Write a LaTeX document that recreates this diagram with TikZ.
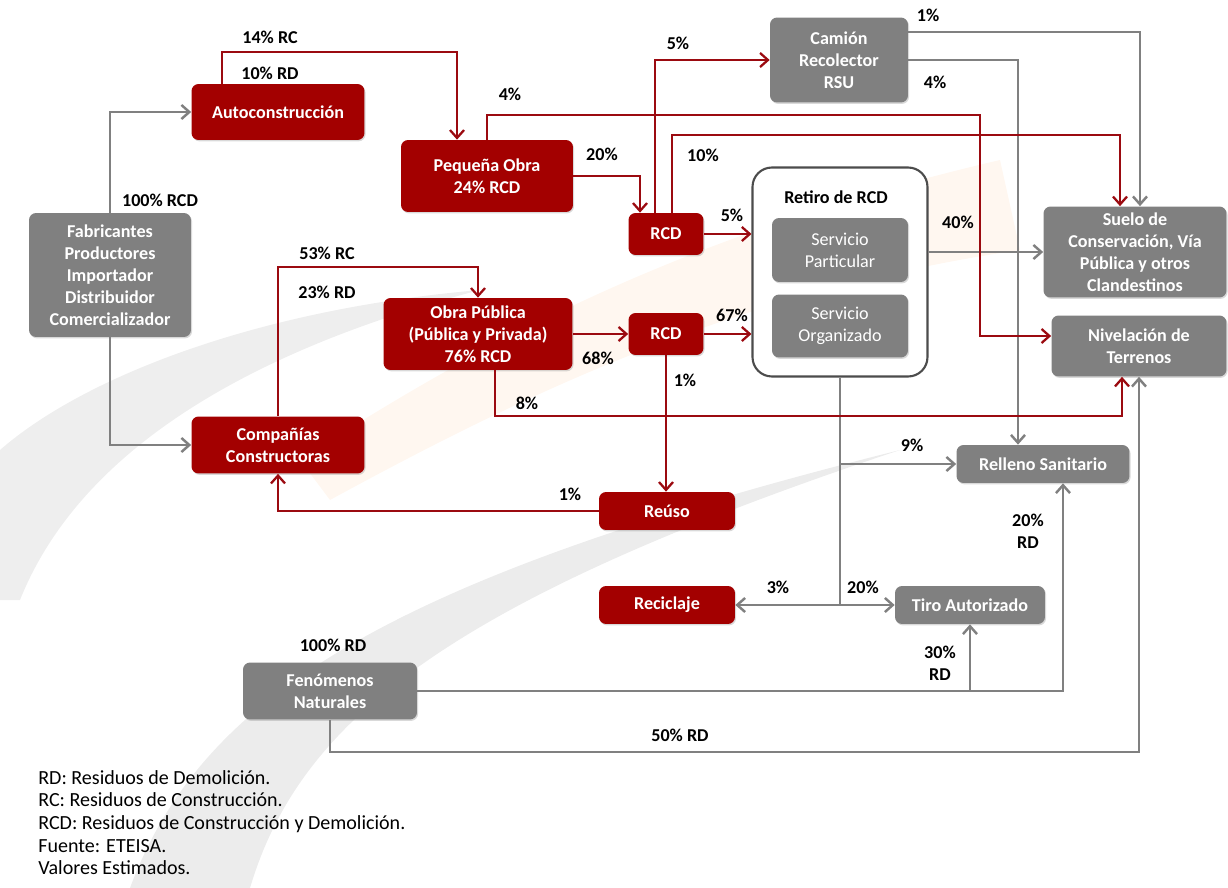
\documentclass[tikz,border=0pt]{standalone}
\usepackage{fontspec}
\setmainfont{Carlito}
\usetikzlibrary{arrows.meta,shadows}
\definecolor{boxred}{RGB}{163,0,0}
\definecolor{boxgray}{RGB}{128,128,128}
\definecolor{linered}{RGB}{155,10,16}
\definecolor{linegray}{RGB}{128,128,128}

\begin{document}
\begin{tikzpicture}[x=0.02cm, y=-0.02cm,
    >={Straight Barb[length=4.5pt,width=8pt]},
    box/.style={rounded corners=4pt, text=white, align=center, inner sep=0pt,
        font=\fontsize{10.3}{12.6}\selectfont\bfseries,
        drop shadow={shadow xshift=0.6pt, shadow yshift=-0.8pt, opacity=0.3}},
    rbox/.style={box, fill=boxred},
    gbox/.style={box, fill=boxgray},
    pct/.style={font=\fontsize{10.3}{12.6}\selectfont\bfseries, align=center},
    rline/.style={draw=linered, line width=1.3pt},
    gline/.style={draw=linegray, line width=1.4pt}]

    \useasboundingbox (0,0) rectangle (1228,888);

    \fill[gray!13] (0,450) .. controls (80,380) and (250,310) .. (480,290)
        .. controls (250,350) and (80,450) .. (20,600) -- (0,600) -- cycle;
    \fill[gray!15] (130,888) .. controls (200,700) and (380,580) .. (900,450)
        .. controls (450,600) and (300,720) .. (250,888) -- cycle;
    \fill[orange!6] (300,460) .. controls (500,330) and (700,230) .. (1000,160)
        -- (1020,250) .. controls (750,290) and (550,380) .. (330,500) -- cycle;

    \node[gbox, minimum width=3.24cm, minimum height=2.48cm] (Fab) at (110,275) {Fabricantes\\Productores\\Importador\\Distribuidor\\Comercializador};
    \node[rbox, minimum width=3.46cm, minimum height=1.12cm] (Auto) at (278,112) {Autoconstrucción};
    \node[rbox, minimum width=3.46cm, minimum height=1.14cm] (Comp) at (278,445) {Compañías\\Constructoras};
    \node[rbox, minimum width=3.44cm, minimum height=1.44cm] (PO) at (487,176) {Pequeña Obra\\24\% RCD};
    \node[rbox, minimum width=3.78cm, minimum height=1.44cm] (OP) at (478,334) {Obra Pública\\(Pública y Privada)\\76\% RCD};
    \node[rbox, minimum width=1.5cm, minimum height=0.84cm] (RCDa) at (666,234) {RCD};
    \node[rbox, minimum width=1.5cm, minimum height=0.84cm] (RCDb) at (666,334) {RCD};
    \node[rbox, minimum width=2.72cm, minimum height=0.76cm] (Reuso) at (667,511) {Reúso};
    \node[rbox, minimum width=2.72cm, minimum height=0.76cm] (Recic) at (667,605) {Reciclaje};
    \node[gbox, minimum width=2.76cm, minimum height=1.7cm] (Cam) at (839,60) {Camión\\Recolector\\RSU};
    \node[draw=black!70, line width=1.2pt, fill=white, rounded corners=11pt, minimum width=3.5cm, minimum height=4.18cm] (Ret) at (840,272) {};
    \node[pct] (RetT) at (836,197) {Retiro de RCD};
    \node[gbox, font=\fontsize{10.3}{12.6}\selectfont, minimum width=2.72cm, minimum height=1.28cm] (SP) at (840,250) {Servicio\\Particular};
    \node[gbox, font=\fontsize{10.3}{12.6}\selectfont, minimum width=2.72cm, minimum height=1.26cm] (SO) at (840,326) {Servicio\\Organizado};
    \node[gbox, minimum width=3.66cm, minimum height=1.82cm] (Suelo) at (1135,252) {Suelo de\\Conservación, Vía\\Pública y otros\\Clandestinos};
    \node[gbox, minimum width=3.5cm, minimum height=1.22cm] (Niv) at (1139,346) {Nivelación de\\Terrenos};
    \node[gbox, minimum width=3.46cm, minimum height=0.76cm] (Rell) at (1043,464) {Relleno Sanitario};
    \node[gbox, minimum width=3cm, minimum height=0.76cm] (Tiro) at (970,605) {Tiro Autorizado};
    \node[gbox, minimum width=3.48cm, minimum height=1.14cm] (Fen) at (330,691) {Fenómenos\\Naturales};

    \draw[gline,->] (Fab.north) |- (Auto.west);
    \draw[gline,->] (Fab.south) |- (Comp.west);
    \draw[gline,->] ([yshift=0.56cm]Cam.east) -| ([xshift=0.1cm]Suelo.north);
    \draw[gline,->] (Cam.east) -| ([xshift=-0.5cm]Rell.north);
    \draw[gline,->] (Ret.east |- Suelo.west) -- (Suelo.west);
    \draw[gline] (Ret.south) -- (Ret.south |- Recic.east);
    \draw[gline,->] (Ret.south |- Rell.west) -- (Rell.west);
    \draw[gline,->] (Ret.south |- Recic.east) -- (Recic.east);
    \draw[gline,->] (Ret.south |- Tiro.west) -- (Tiro.west);
    \draw[gline,->] (Fen.east) -| ([xshift=0.4cm]Rell.south);
    \draw[gline,->] (Fen.east -| Tiro.south) -- (Tiro.south);
    \draw[gline,->] (Fen.south) -- ++(0,32) -| (Niv.south);

    \draw[rline,->] ([xshift=-1.12cm]Auto.north) -- ++(0,-32) -| ([xshift=-0.6cm]PO.north);
    \draw[rline,->] (Comp.north) -- ++(0,-149) -| (OP.north);
    \draw[rline,->] (PO.east) -| ([xshift=-0.52cm]RCDa.north);
    \draw[rline,->] (PO.north) |- (980,115) |- ([yshift=0.2cm]Niv.west);
    \draw[rline,->] ([xshift=-0.22cm]RCDa.north) |- (Cam.west);
    \draw[rline,->] ([xshift=0.12cm]RCDa.north) -- ++(0,-78) -| ([xshift=-0.3cm]Suelo.north);
    \draw[rline,->] (RCDa.east) -- (RCDa.east -| Ret.west);
    \draw[rline,->] (OP.east) -- (RCDb.west);
    \draw[rline,->] (RCDb.east) -- (RCDb.east -| Ret.west);
    \draw[rline,->] (RCDb.south) -- (RCDb.south |- Reuso.north);
    \draw[rline,->] ([xshift=0.34cm]OP.south) -- ++(0,46) -| ([xshift=-0.34cm]Niv.south);
    \draw[rline,->] (Reuso.west) -| (Comp.south);

    \node[pct] (pA) at (160,200) {100\% RCD};
    \node[pct] (pB) at (270,37) {14\% RC};
    \node[pct] (pC) at (270,73) {10\% RD};
    \node[pct] (pD) at (327,253) {53\% RC};
    \node[pct] (pE) at (327,292) {23\% RD};
    \node[pct] (pF) at (510,94) {4\%};
    \node[pct] (pG) at (602,154) {20\%};
    \node[pct] (pH) at (678,43) {5\%};
    \node[pct] (pI) at (703,155) {10\%};
    \node[pct] (pJ) at (732,215) {5\%};
    \node[pct] (pK) at (732,315) {67\%};
    \node[pct] (pL) at (598,358) {68\%};
    \node[pct] (pM) at (685,380) {1\%};
    \node[pct] (pN) at (527,403) {8\%};
    \node[pct] (pO) at (570,494) {1\%};
    \node[pct] (pP) at (928,15) {1\%};
    \node[pct] (pQ) at (935,82) {4\%};
    \node[pct] (pR) at (958,222) {40\%};
    \node[pct] (pS) at (912,445) {9\%};
    \node[pct] (pT) at (778,587) {3\%};
    \node[pct] (pU) at (863,587) {20\%};
    \node[pct] (pV) at (1028,531) {20\%\\RD};
    \node[pct] (pW) at (940,663) {30\%\\RD};
    \node[pct] (pX) at (333,645) {100\% RD};
    \node[pct] (pY) at (680,735) {50\% RD};

    \node[anchor=north west, align=left, inner sep=0pt, font=\fontsize{11.4}{12.9}\selectfont] (Leyenda) at (38,770)
        {RD: Residuos de Demolición.\\RC: Residuos de Construcción.\\RCD: Residuos de Construcción y Demolición.\\Fuente: ETEISA.\\Valores Estimados.};
\end{tikzpicture}
\end{document}
